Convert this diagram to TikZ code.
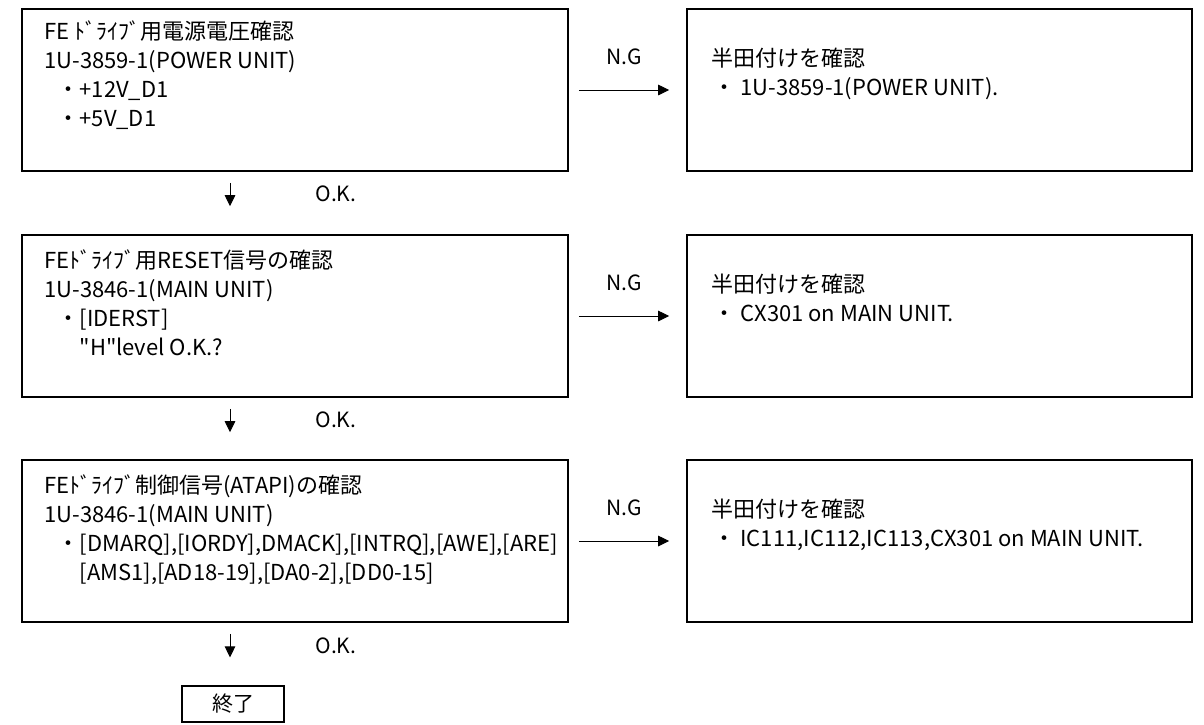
\documentclass[tikz,border=0pt]{standalone}
\usepackage{fontspec}
\setmainfont{Noto Sans CJK JP}[Ligatures=TeXOff]
\usetikzlibrary{arrows.meta,positioning}

\begin{document}
\begin{tikzpicture}[x=1pt,y=-1pt,
  chkbox/.style={draw,line width=1.6pt,minimum width=546pt,minimum height=162pt,inner sep=0pt},
  fixbox/.style={chkbox,minimum width=505pt},
  boxtext/.style={anchor=north west,align=left,inner sep=0pt,font=\fontsize{22}{29}\selectfont},
  lbl/.style={font=\fontsize{21}{24}\selectfont,inner sep=0pt},
  flow/.style={-{Triangle[length=11pt,width=10.5pt]},line width=1pt}]
\useasboundingbox (0,0) rectangle (1204,724);
% check boxes (left column)
\node[chkbox] (p1) at (295,90){};
\node[chkbox] (p2) at (295,316){};
\node[chkbox] (p3) at (295,541){};
\node[boxtext] (p1t) at ([xshift=23pt,yshift=-12pt]p1.north west){FE ﾄﾞﾗｲﾌﾞ用電源電圧確認\\1U-3859-1(POWER UNIT)\\\hspace*{0.6em}・+12V\_D1\\\hspace*{0.6em}・+5V\_D1};
\node[boxtext] (p2t) at ([xshift=23pt,yshift=-15pt]p2.north west){FEﾄﾞﾗｲﾌﾞ用RESET信号の確認\\1U-3846-1(MAIN UNIT)\\\hspace*{0.6em}・[IDERST]\\\hspace*{1.6em}"H"level O.K.?};
\node[boxtext] (p3t) at ([xshift=23pt,yshift=-15pt]p3.north west){FEﾄﾞﾗｲﾌﾞ制御信号(ATAPI)の確認\\1U-3846-1(MAIN UNIT)\\\hspace*{0.6em}・[DMARQ],[IORDY],DMACK],[INTRQ],[AWE],[ARE]\\\hspace*{1.6em}[AMS1],[AD18-19],[DA0-2],[DD0-15]};
% repair boxes (right column)
\node[fixbox] (f1) at (939.5,90){};
\node[fixbox] (f2) at (939.5,316){};
\node[fixbox] (f3) at (939.5,541){};
\node[boxtext] (f1t) at ([xshift=25pt,yshift=-40pt]f1.north west){半田付けを確認\\\hspace*{0.1em}・~1U-3859-1(POWER UNIT).};
\node[boxtext] (f2t) at ([xshift=25pt,yshift=-40pt]f2.north west){半田付けを確認\\\hspace*{0.1em}・~CX301 on MAIN UNIT.};
\node[boxtext] (f3t) at ([xshift=25pt,yshift=-40pt]f3.north west){半田付けを確認\\\hspace*{0.1em}・~IC111,IC112,IC113,CX301 on MAIN UNIT.};
% end
\node[draw,line width=1.2pt,minimum width=102pt,minimum height=36pt,inner sep=0pt,lbl] (fin) at (233,704){終了};
% N.G arrows
\foreach \i in {1,2,3}{
  \draw[flow] ([xshift=10pt]p\i.east) -- ([xshift=-17pt]f\i.west) node[midway,above=25pt,lbl]{N.G};
}
% O.K. arrows
\draw[flow,shorten <=11pt,shorten >=28pt] ([xshift=-65pt]p1.south) -- ([xshift=-65pt]p2.north) node[pos=0.36,right=85pt,lbl]{O.K.};
\draw[flow,shorten <=11pt,shorten >=27pt] ([xshift=-65pt]p2.south) -- ([xshift=-65pt]p3.north) node[pos=0.36,right=85pt,lbl]{O.K.};
\draw[flow,shorten <=11pt,shorten >=28pt] ([xshift=-65pt]p3.south) -- ([xshift=-3pt]fin.north) node[pos=0.36,right=85pt,lbl]{O.K.};
\end{tikzpicture}
\end{document}
